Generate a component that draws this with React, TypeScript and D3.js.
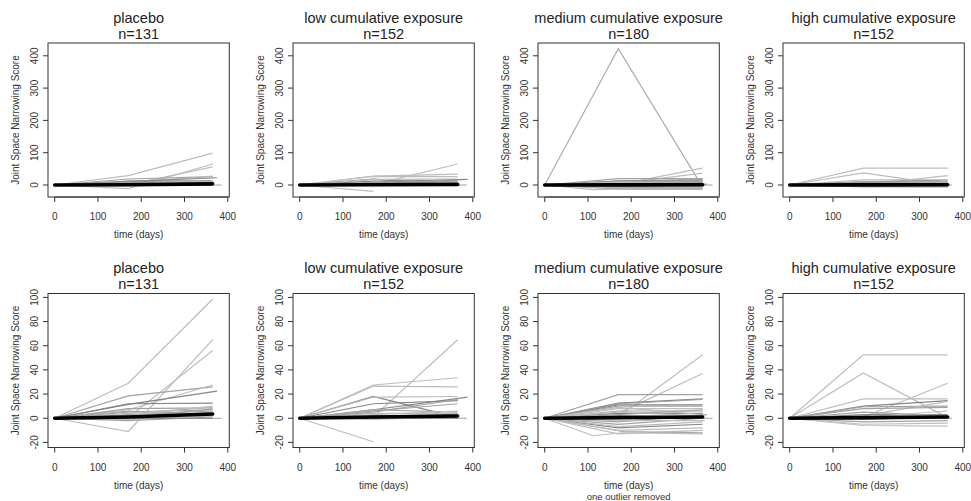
import React from "react";
import * as d3 from "d3";

type Pt = [number, number];

const GROUPS = [
  "placebo",
  "low cumulative exposure",
  "medium cumulative exposure",
  "high cumulative exposure",
];
const GROUP_N = [131, 152, 180, 152];
const X_TICKS = [0, 100, 200, 300, 400];
const Y_TICKS_TOP = [0, 100, 200, 300, 400];
const Y_TICKS_BOTTOM = [-20, 0, 20, 40, 60, 80, 100];
const X_LABEL = "time (days)";
const Y_LABEL = "Joint Space Narrowing Score";
const OUTLIER_NOTE = "one outlier removed";

// individual subject trajectories (day, score)
const PLACEBO: Pt[][] = [
  [[0, 0], [170, 29], [365, 98.5]],
  [[0, 0], [170, -11], [365, 65]],
  [[0, 0], [170, 0.5], [365, 56]],
  [[0, 0], [170, 18.5], [365, 26]],
  [[0, 0], [170, 7], [365, 27.5]],
  [[0, 0], [170, 11.5], [375, 22.5]],
  [[0, 0], [170, 12], [365, 12.5]],
  [[0, 0], [170, 8], [365, 8.5]],
  [[0, 0], [170, 5], [365, 7]],
  [[0, 0], [170, 3], [365, 6]],
  [[0, 0], [170, 2], [365, 4]],
  [[0, 0], [170, 1], [365, 5]],
  [[0, 0], [170, 0], [386, 0]],
  [[0, 0], [170, -1], [365, 2]],
  [[0, 0], [170, 4], [365, 9]],
  [[0, 0], [170, 6], [365, 3]],
  [[0, 0], [170, -2], [365, 1]],
  [[0, 0], [170, 2], [365, 10]],
  [[0, 0], [170, 0], [365, 0]],
  [[0, 0], [170, 1], [365, 7.5]],
];
const PLACEBO_TONE = "LLLMLDDMMMDLMLLMMLDM";

const LOW: Pt[][] = [
  [[0, 0], [170, -19.5]],
  [[0, 0], [170, 1], [365, 65]],
  [[0, 0], [170, 27.5], [365, 33.5]],
  [[0, 0], [170, 26.5], [365, 26]],
  [[0, 0], [170, 18], [365, 0.5]],
  [[0, 0], [170, 17.5], [365, 18]],
  [[0, 0], [170, 12], [365, 14.5]],
  [[0, 0], [170, 7], [388, 17.5]],
  [[0, 0], [170, 6], [365, 12]],
  [[0, 0], [170, 7], [365, 5]],
  [[0, 0], [170, 4], [365, 4]],
  [[0, 0], [170, 2], [365, 3]],
  [[0, 0], [170, 0], [386, 0]],
  [[0, 0], [170, 1], [365, 2]],
  [[0, 0], [170, -1], [365, 1]],
  [[0, 0], [170, 3], [365, 6]],
  [[0, 0], [170, 5], [365, 15.5]],
  [[0, 0], [170, 0], [365, 0]],
];
const LOW_TONE = "LLLLDLDDMMLMMDLLMD";

const MEDIUM_OUTLIER: Pt[] = [[0, 0], [170, 422], [355, 15]];
const MEDIUM: Pt[][] = [
  [[0, 0], [170, 1], [365, 52.5]],
  [[0, 0], [170, 4], [365, 37]],
  [[0, 0], [170, 19.5], [365, 19.5]],
  [[0, 0], [170, 12.5], [365, 16]],
  [[0, 0], [170, 12], [365, 15.5]],
  [[0, 0], [170, 11], [365, 11]],
  [[0, 0], [170, 10], [365, 10]],
  [[0, 0], [170, 8], [365, 8]],
  [[0, 0], [170, 6], [365, 6]],
  [[0, 0], [170, 4], [365, 4]],
  [[0, 0], [170, 9], [365, 3]],
  [[0, 0], [112, -14.5], [180, -12], [365, -13]],
  [[0, 0], [170, -13], [365, -10]],
  [[0, 0], [180, -11], [365, -12]],
  [[0, 0], [170, -8], [365, -5]],
  [[0, 0], [170, -7], [365, -3]],
  [[0, 0], [170, -5], [365, 0]],
  [[0, 0], [170, -10], [365, -8]],
  [[0, 0], [170, -3], [375, 3]],
  [[0, 0], [170, 0], [388, 0]],
  [[0, 0], [170, 2], [365, 1]],
  [[0, 0], [170, -2], [370, -2]],
  [[0, 0], [170, 5], [365, 2]],
  [[0, 0], [170, 3], [365, 7]],
];
const MEDIUM_TONE = "LLMDMDMLMDLLLMDLMLMMDLLM";

const HIGH: Pt[][] = [
  [[0, 0], [170, 52.5], [365, 52.5]],
  [[0, 0], [170, 37.5], [365, 0.5]],
  [[0, 0], [170, 1], [365, 29]],
  [[0, 0], [170, 16], [365, 16]],
  [[0, 0], [170, 10], [365, 14.5]],
  [[0, 0], [170, 9.5], [365, 10]],
  [[0, 0], [170, 2], [365, 14]],
  [[0, 0], [170, 8], [365, 9]],
  [[0, 0], [170, -5], [365, -4]],
  [[0, 0], [170, -6], [365, -6.5]],
  [[0, 0], [170, -3], [365, -2]],
  [[0, 0], [170, 3], [365, 3]],
  [[0, 0], [170, 0], [375, 0]],
  [[0, 0], [170, 5], [365, 2]],
  [[0, 0], [170, 1], [365, 6]],
  [[0, 0], [170, -1], [365, 1]],
];
const HIGH_TONE = "LLLLDMLMLLMDMMLD";

// group summary (thick black) lines
const MEAN_PLACEBO: Pt[] = [[0, 0], [170, 1], [365, 3.5]];
const MEAN_LOW: Pt[] = [[0, 0], [170, 1], [365, 1.8]];
const MEAN_MEDIUM: Pt[] = [[0, 0], [170, 0.5], [365, 1]];
const MEAN_HIGH: Pt[] = [[0, 0], [170, 0.5], [365, 1]];

const SUBJECTS = [PLACEBO, LOW, MEDIUM, HIGH];
const TONES = [PLACEBO_TONE, LOW_TONE, MEDIUM_TONE, HIGH_TONE];
const MEANS = [MEAN_PLACEBO, MEAN_LOW, MEAN_MEDIUM, MEAN_HIGH];

const TONE_COLOR: Record<string, string> = {
  L: "#bdbdbd",
  M: "#a2a2a2",
  D: "#858585",
};

const W = 971;
const H = 501;
const COL_X0 = 48;
const COL_STEP = 245;
const BOX_W = 181.3;
const ROW_Y0 = [43, 293.5];
const BOX_H = 154;
const FONT = "'Liberation Sans', Arial, Helvetica, sans-serif";

function ext4(v: number[]): [number, number] {
  const [a, b] = d3.extent(v) as [number, number];
  const d = (b - a) * 0.04;
  return [a - d, b + d];
}

const allPts: Pt[] = SUBJECTS.flat(1).flat(1) as Pt[];
const xDomain = ext4([...allPts.map((p) => p[0]), ...MEDIUM_OUTLIER.map((p) => p[0])]);
const yDomainTop = ext4([...allPts.map((p) => p[1]), ...MEDIUM_OUTLIER.map((p) => p[1])]);
const yDomainBottom = ext4(allPts.map((p) => p[1]));

function Panel({ row, col }: { row: number; col: number }) {
  const x0 = COL_X0 + col * COL_STEP;
  const y0 = ROW_Y0[row];
  const x = d3.scaleLinear().domain(xDomain).range([x0, x0 + BOX_W]);
  const y = d3
    .scaleLinear()
    .domain(row === 0 ? yDomainTop : yDomainBottom)
    .range([y0 + BOX_H, y0]);
  const line = d3
    .line<Pt>()
    .x((d) => x(d[0]))
    .y((d) => y(d[1]));
  const yTicks = row === 0 ? Y_TICKS_TOP : Y_TICKS_BOTTOM;
  const subjects = SUBJECTS[col];
  const tones = TONES[col];
  const cx = x0 + BOX_W / 2;
  const cy = y0 + BOX_H / 2;
  const bottom = y0 + BOX_H;
  const clipId = `clip-${row}-${col}`;
  const titleBase = row === 0 ? 22.5 : 273;
  return (
    <g>
      <defs>
        <clipPath id={clipId}>
          <rect x={x0} y={y0} width={BOX_W} height={BOX_H} />
        </clipPath>
      </defs>
      <g clipPath={`url(#${clipId})`} fill="none">
        {row === 0 && col === 2 && (
          <path d={line(MEDIUM_OUTLIER) || ""} stroke="#a8a8a8" strokeWidth={1.1} />
        )}
        {subjects.map((s, i) => (
          <path
            key={i}
            d={line(s) || ""}
            stroke={TONE_COLOR[tones[i]] || "#aaa"}
            strokeWidth={1.2}
          />
        ))}
        <path
          d={line(MEANS[col]) || ""}
          stroke="#000"
          strokeWidth={3.6}
          strokeLinecap="round"
        />
      </g>
      <rect
        x={x0}
        y={y0}
        width={BOX_W}
        height={BOX_H}
        fill="none"
        stroke="#333"
        strokeWidth={1}
      />
      {/* x axis */}
      <line
        x1={x(X_TICKS[0])}
        x2={x(X_TICKS[X_TICKS.length - 1])}
        y1={bottom}
        y2={bottom}
        stroke="#333"
      />
      {X_TICKS.map((t) => (
        <g key={t}>
          <line x1={x(t)} x2={x(t)} y1={bottom} y2={bottom + 5} stroke="#333" />
          <text
            x={x(t)}
            y={bottom + 23}
            textAnchor="middle"
            fontSize={10}
            fill="#333"
            fontFamily={FONT}
          >
            {t}
          </text>
        </g>
      ))}
      {/* y axis */}
      {yTicks.map((t) => (
        <g key={t}>
          <line x1={x0 - 5} x2={x0} y1={y(t)} y2={y(t)} stroke="#333" />
          <text
            transform={`translate(${x0 - 10.5},${y(t)}) rotate(-90)`}
            textAnchor="middle"
            fontSize={10}
            fill="#333"
            fontFamily={FONT}
          >
            {t}
          </text>
        </g>
      ))}
      <text
        x={cx}
        y={bottom + 41}
        textAnchor="middle"
        fontSize={10}
        fill="#333"
        fontFamily={FONT}
      >
        {X_LABEL}
      </text>
      {row === 1 && col === 2 && (
        <text
          x={cx}
          y={bottom + 52.3}
          textAnchor="middle"
          fontSize={9.5}
          fill="#333"
          fontFamily={FONT}
        >
          {OUTLIER_NOTE}
        </text>
      )}
      <text
        transform={`translate(${x0 - 29.5},${cy}) rotate(-90)`}
        textAnchor="middle"
        fontSize={10}
        fill="#333"
        fontFamily={FONT}
      >
        {Y_LABEL}
      </text>
      <text
        x={cx}
        y={titleBase}
        textAnchor="middle"
        fontSize={14.5}
        fill="#222"
        fontFamily={FONT}
      >
        {GROUPS[col]}
      </text>
      <text
        x={cx}
        y={titleBase + 16}
        textAnchor="middle"
        fontSize={14.5}
        fill="#222"
        fontFamily={FONT}
      >
        {`n=${GROUP_N[col]}`}
      </text>
    </g>
  );
}

export default function App() {
  return (
    <svg
      width={W}
      height={H}
      style={{ position: "absolute", left: 0, top: 0, background: "#fff" }}
    >
      <rect x={0} y={0} width={W} height={H} fill="#fff" />
      {[0, 1].map((r) =>
        [0, 1, 2, 3].map((c) => <Panel key={`${r}-${c}`} row={r} col={c} />)
      )}
    </svg>
  );
}
